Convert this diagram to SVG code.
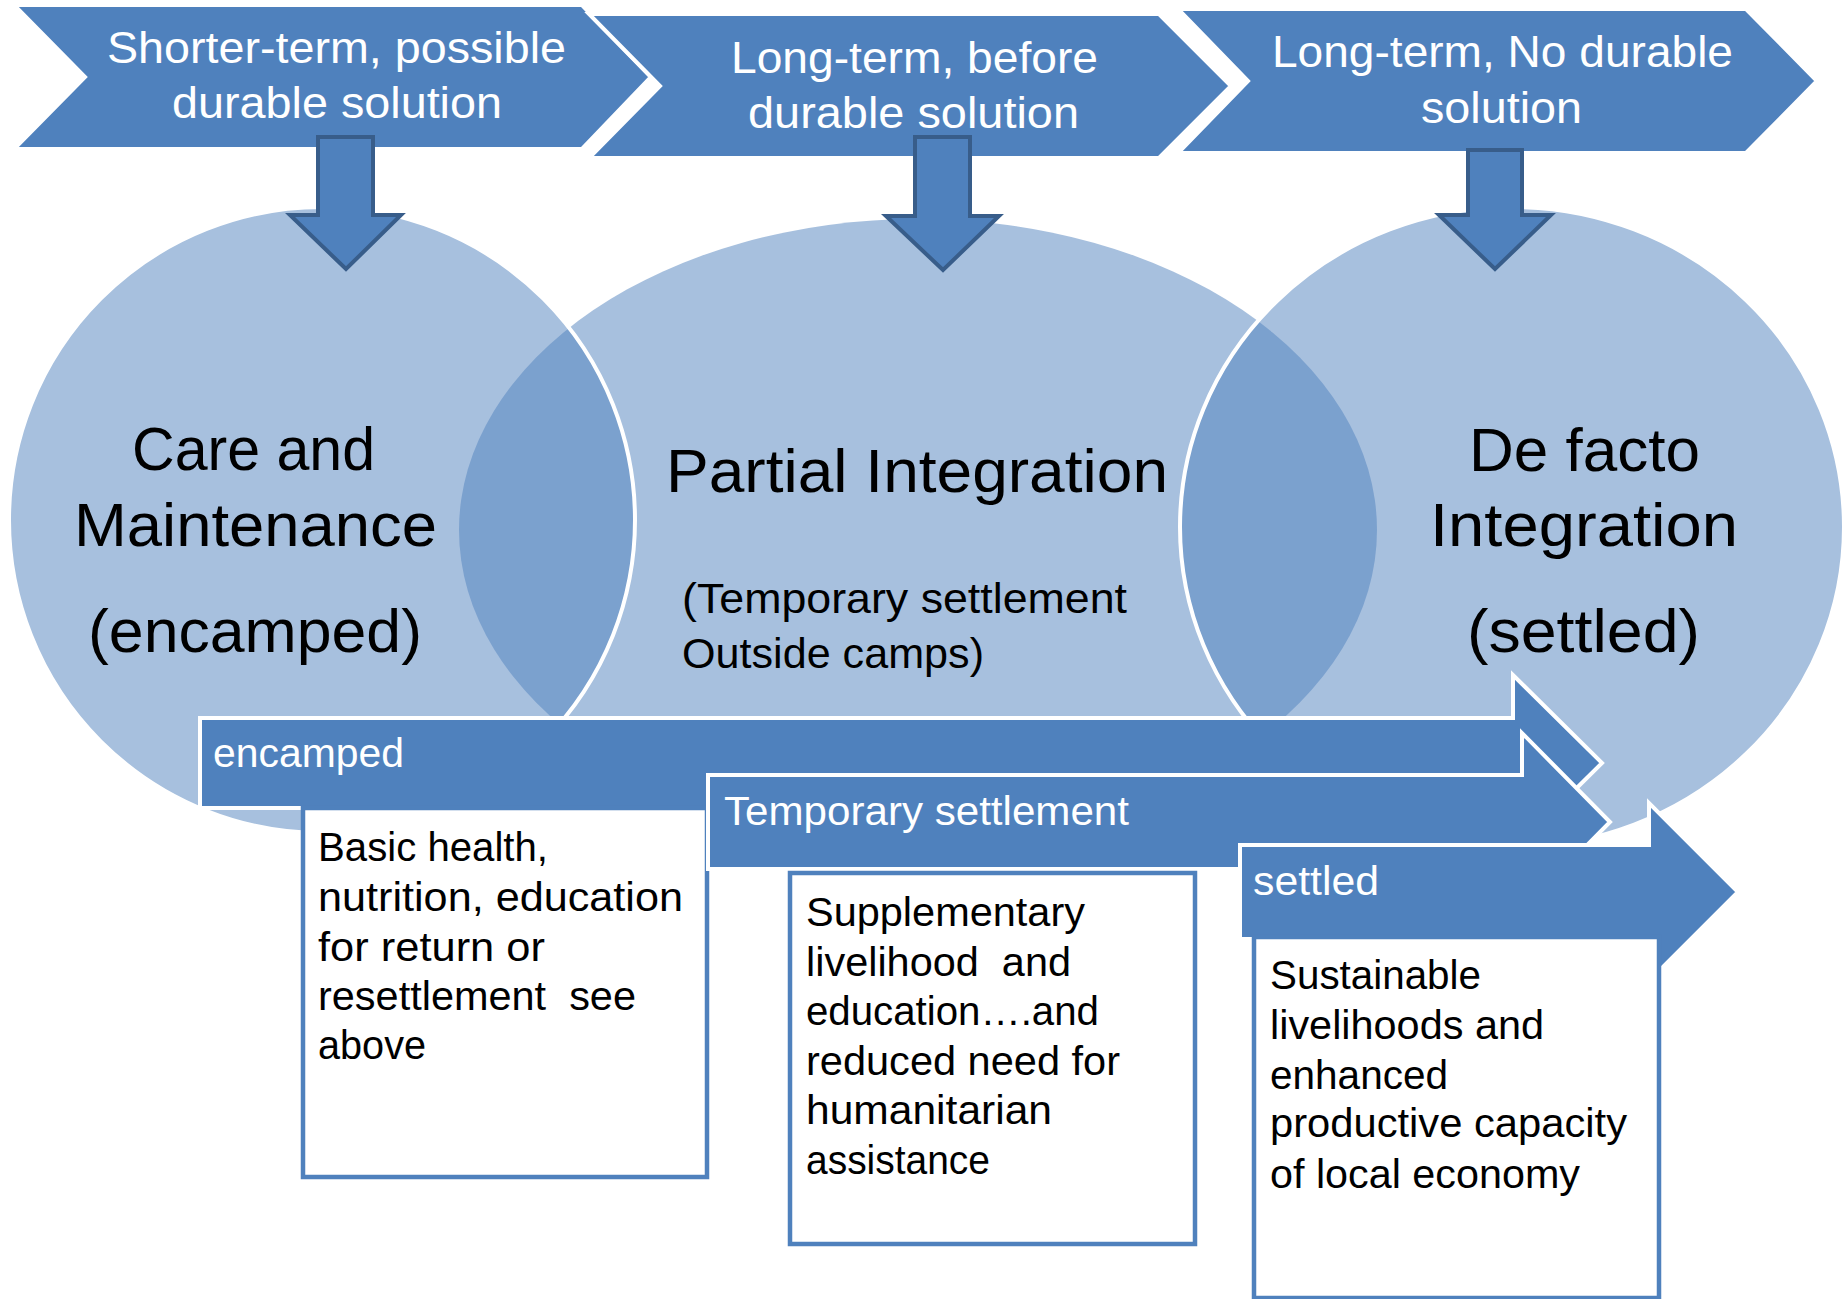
<svg xmlns="http://www.w3.org/2000/svg" width="1845" height="1299" viewBox="0 0 1845 1299">
  <style>
    text { font-family: "Liberation Sans", Arial, sans-serif; }
    .chev { fill: #4F81BD; stroke: #FFFFFF; stroke-width: 4; stroke-linejoin: miter; }
    .down { fill: #4F81BD; stroke: #385D8A; stroke-width: 4; stroke-linejoin: miter; }
    .bar  { fill: #4F81BD; stroke: #FFFFFF; stroke-width: 4; stroke-linejoin: miter; }
    .box  { fill: #FFFFFF; stroke: #4F81BD; stroke-width: 4.5; }
    .disc { fill: #4F81BD; fill-opacity: 0.5; }
    .edge { stroke: #FFFFFF; stroke-width: 4; }
    .hd   { fill: #FFFFFF; font-size: 44px; text-anchor: middle; }
    .big  { fill: #000000; font-size: 62px; text-anchor: middle; }
    .sub  { fill: #000000; font-size: 42px; }
    .lbl  { fill: #FFFFFF; font-size: 41px; }
    .note { fill: #000000; font-size: 41px; }
  </style>

  <!-- overlapping phase circles -->
  <g id="circles">
    <g id="partial-integration">
      <ellipse class="disc" cx="918" cy="530" rx="459" ry="311"/>
    </g>
    <g id="care-maintenance">
      <circle class="disc edge" cx="322" cy="520" r="313"/>
    </g>
    <g id="de-facto">
      <ellipse class="disc edge" cx="1512" cy="527" rx="332" ry="320"/>
    </g>
  </g>

  <g id="circle-labels">
    <text class="big" x="253.5" y="470" textLength="243" lengthAdjust="spacingAndGlyphs">Care and</text>
    <text class="big" x="255.5" y="546" textLength="363" lengthAdjust="spacingAndGlyphs">Maintenance</text>
    <text class="big" x="255" y="652" textLength="334" lengthAdjust="spacingAndGlyphs">(encamped)</text>

    <text class="big" x="666" y="492" style="text-anchor:start" textLength="502" lengthAdjust="spacingAndGlyphs">Partial Integration</text>
    <text class="sub" x="682" y="613" textLength="445" lengthAdjust="spacingAndGlyphs">(Temporary settlement</text>
    <text class="sub" x="682" y="668" textLength="302" lengthAdjust="spacingAndGlyphs">Outside camps)</text>

    <text class="big" x="1584.5" y="471" textLength="231" lengthAdjust="spacingAndGlyphs">De facto</text>
    <text class="big" x="1584" y="546" textLength="308" lengthAdjust="spacingAndGlyphs">Integration</text>
    <text class="big" x="1583.5" y="652" textLength="233" lengthAdjust="spacingAndGlyphs">(settled)</text>
  </g>

  <!-- time-frame chevrons -->
  <g id="chevron-short">
    <polygon class="chev" points="14,5 582,5 651,77 582,149 14,149 85,77"/>
    <text class="hd" x="336.5" y="63" textLength="459" lengthAdjust="spacingAndGlyphs">Shorter-term, possible</text>
    <text class="hd" x="337" y="118" textLength="330" lengthAdjust="spacingAndGlyphs">durable solution</text>
  </g>
  <g id="chevron-long">
    <polygon class="chev" points="589,14 1159,14 1231,86 1159,158 589,158 660,86"/>
    <text class="hd" x="914.5" y="73" textLength="367" lengthAdjust="spacingAndGlyphs">Long-term, before</text>
    <text class="hd" x="913.5" y="128" textLength="331" lengthAdjust="spacingAndGlyphs">durable solution</text>
  </g>
  <g id="chevron-none">
    <polygon class="chev" points="1178,9 1746,9 1817,81 1746,153 1178,153 1248,81"/>
    <text class="hd" x="1502.5" y="67" textLength="461" lengthAdjust="spacingAndGlyphs">Long-term, No durable</text>
    <text class="hd" x="1501.5" y="123" textLength="161" lengthAdjust="spacingAndGlyphs">solution</text>
  </g>

  <!-- connectors: block arrows from each time frame down to its circle -->
  <g id="connectors">
    <polygon class="down" points="318,137 373,137 373,215 401,215 346,269 290,215 318,215"/>
    <polygon class="down" points="915,137 970,137 970,216 999,216 943,270 886,216 915,216"/>
    <polygon class="down" points="1468,150 1522,150 1522,215 1551,215 1495,269 1439,215 1468,215"/>
  </g>

  <!-- stepped status arrows with their detail boxes -->
  <g id="stage-encamped">
    <polygon class="bar" points="200,718 1513,718 1513,675 1602,763 1513,851 1513,808 200,808"/>
    <text class="lbl" x="213" y="767" textLength="191" lengthAdjust="spacingAndGlyphs">encamped</text>
  </g>
  <g id="detail-encamped">
    <rect class="box" x="303" y="808" width="404" height="369"/>
    <text class="note" x="318" y="861" textLength="230" lengthAdjust="spacingAndGlyphs">Basic health,</text>
    <text class="note" x="318" y="911" textLength="365" lengthAdjust="spacingAndGlyphs">nutrition, education</text>
    <text class="note" x="318" y="961" textLength="227" lengthAdjust="spacingAndGlyphs">for return or</text>
    <text class="note" x="318" y="1010" xml:space="preserve" textLength="318" lengthAdjust="spacingAndGlyphs">resettlement  see</text>
    <text class="note" x="318" y="1059" textLength="108" lengthAdjust="spacingAndGlyphs">above</text>
  </g>

  <g id="stage-temporary">
    <polygon class="bar" points="708,775 1522,775 1522,733 1610,822 1522,911 1522,869 708,869"/>
    <text class="lbl" x="724" y="825" textLength="405" lengthAdjust="spacingAndGlyphs">Temporary settlement</text>
  </g>
  <g id="detail-temporary">
    <rect class="box" x="790" y="873" width="405" height="371"/>
    <text class="note" x="806" y="926" textLength="279" lengthAdjust="spacingAndGlyphs">Supplementary</text>
    <text class="note" x="806" y="976" xml:space="preserve" textLength="265" lengthAdjust="spacingAndGlyphs">livelihood  and</text>
    <text class="note" x="806" y="1025" textLength="293" lengthAdjust="spacingAndGlyphs">education….and</text>
    <text class="note" x="806" y="1075" textLength="314" lengthAdjust="spacingAndGlyphs">reduced need for</text>
    <text class="note" x="806" y="1124" textLength="246" lengthAdjust="spacingAndGlyphs">humanitarian</text>
    <text class="note" x="806" y="1174" textLength="184" lengthAdjust="spacingAndGlyphs">assistance</text>
  </g>

  <g id="stage-settled">
    <polygon class="bar" points="1240,845 1649,845 1649,803 1738,892 1649,981 1649,939 1240,939"/>
    <text class="lbl" x="1253" y="895" textLength="126" lengthAdjust="spacingAndGlyphs">settled</text>
  </g>
  <g id="detail-settled">
    <rect class="box" x="1254" y="937" width="405" height="361"/>
    <text class="note" x="1270" y="989" textLength="211" lengthAdjust="spacingAndGlyphs">Sustainable</text>
    <text class="note" x="1270" y="1039" textLength="274" lengthAdjust="spacingAndGlyphs">livelihoods and</text>
    <text class="note" x="1270" y="1089" textLength="178" lengthAdjust="spacingAndGlyphs">enhanced</text>
    <text class="note" x="1270" y="1137" textLength="357" lengthAdjust="spacingAndGlyphs">productive capacity</text>
    <text class="note" x="1270" y="1188" textLength="310" lengthAdjust="spacingAndGlyphs">of local economy</text>
  </g>
</svg>
